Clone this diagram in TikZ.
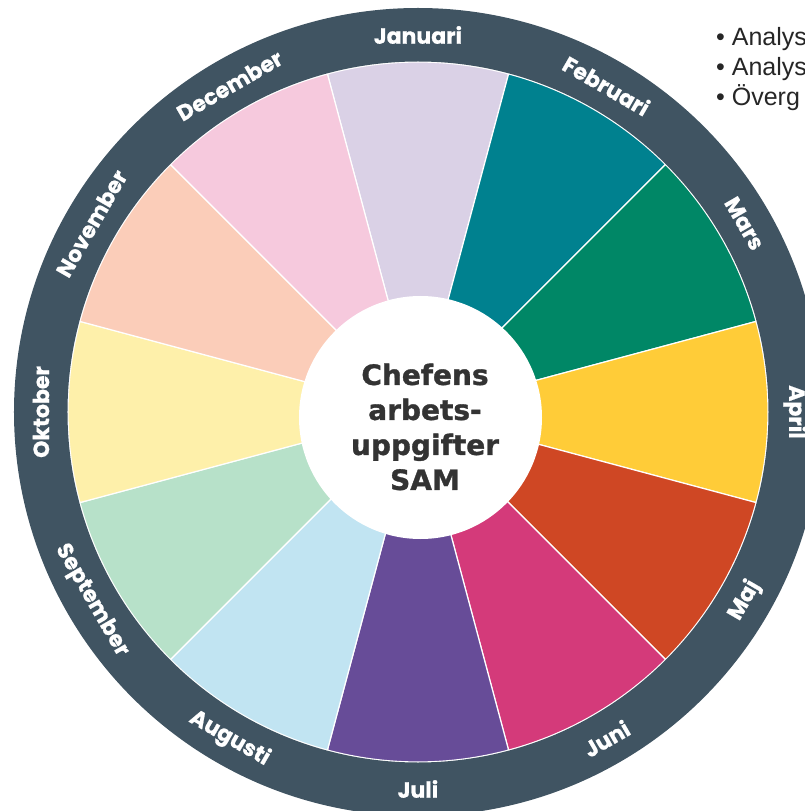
\documentclass[tikz,border=0pt]{standalone}
\usepackage{fontspec}
\setmainfont{Liberation Sans}
\newfontfamily\monthfont{Poppins}[BoldFeatures={FakeBold=0.8}]
\newfontfamily\centerfont{DejaVu Sans}[BoldFeatures={FakeBold=1.2}]
\newfontfamily\bulletfont{Liberation Sans}
\definecolor{ringcol}{HTML}{405462}
\definecolor{cJan}{HTML}{DAD1E6}
\definecolor{cFeb}{HTML}{00818F}
\definecolor{cMar}{HTML}{008766}
\definecolor{cApr}{HTML}{FFCC38}
\definecolor{cMaj}{HTML}{CF4724}
\definecolor{cJun}{HTML}{D43A7A}
\definecolor{cJul}{HTML}{674C98}
\definecolor{cAug}{HTML}{C1E4F2}
\definecolor{cSep}{HTML}{B7E1C9}
\definecolor{cOkt}{HTML}{FEF0AA}
\definecolor{cNov}{HTML}{FBCDB9}
\definecolor{cDec}{HTML}{F6C9DD}
\definecolor{txtdark}{HTML}{333333}
\definecolor{bulletcol}{HTML}{262626}
\tikzset{
  sector/.style={draw=white, line width=1.2pt},
  monthlabel/.style={text=white, font=\monthfont\bfseries\fontsize{22}{26}\selectfont, inner sep=0pt},
  centerlabel/.style={text=txtdark, font=\centerfont\bfseries\fontsize{28}{35}\selectfont, align=center, inner sep=0pt},
  bulletline/.style={text=bulletcol, font=\bulletfont\fontsize{25}{30}\selectfont, anchor=base west, inner sep=0pt}
}
\begin{document}
\begin{tikzpicture}[x=1pt,y=1pt]
\useasboundingbox (-418,-399) rectangle (387,412);
\fill[white] (-418,-399) rectangle (387,412);
% sectors
\foreach \ang/\col in {90/cJan,60/cFeb,30/cMar,0/cApr,-30/cMaj,-60/cJun,-90/cJul,-120/cAug,-150/cSep,180/cOkt,150/cNov,120/cDec}{
  \filldraw[sector, fill=\col] (0,0) -- (\ang-15:350) arc[start angle=\ang-15, end angle=\ang+15, radius=350] -- cycle;
}
% ring
\fill[ringcol, even odd rule] (0,0) circle[radius=404] (0,0) circle[radius=350.5];
% center
\fill[white] (2.5,-5.5) circle[radius=121.5];
\node[centerlabel] (center) at (7,-15) {Chefens\\arbets-\\uppgifter\\SAM};
% month labels
\node[monthlabel, rotate=0]   (jan) at (90:377)   {Januari};
\node[monthlabel, rotate=-30] (feb) at (60:377)   {Februari};
\node[monthlabel, rotate=-60] (mar) at (30:377)   {Mars};
\node[monthlabel, rotate=-90] (apr) at (0:377)    {April};
\node[monthlabel, rotate=60]  (maj) at (-30:377)  {Maj};
\node[monthlabel, rotate=30]  (jun) at (-60:377)  {Juni};
\node[monthlabel, rotate=0]   (jul) at (-90:377)  {Juli};
\node[monthlabel, rotate=-30] (aug) at (-120:377) {Augusti};
\node[monthlabel, rotate=-60] (sep) at (-150:377) {September};
\node[monthlabel, rotate=90]  (okt) at (180:377)  {Oktober};
\node[monthlabel, rotate=60]  (nov) at (150:377)  {November};
\node[monthlabel, rotate=30]  (dec) at (120:377)  {December};
% bullet text
\node[bulletline] (b1) at (298,366) {• Analys};
\node[bulletline] (b2) at (298,336) {• Analys};
\node[bulletline] (b3) at (298,306) {• Överg};
\end{tikzpicture}
\end{document}
